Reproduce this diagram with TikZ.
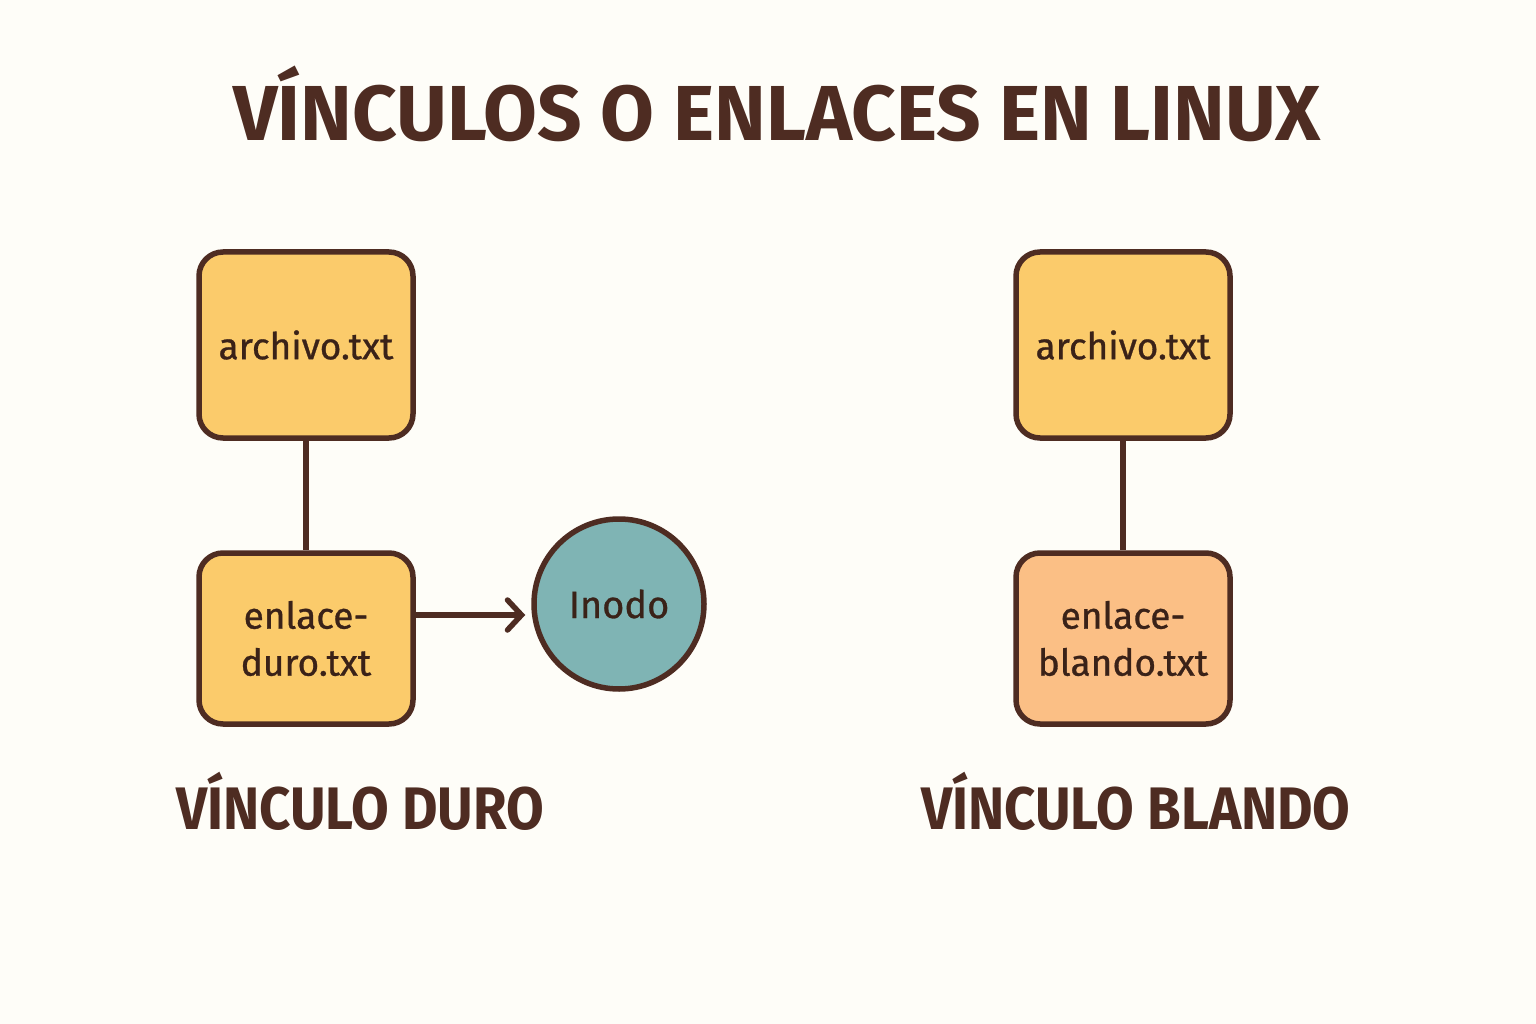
\documentclass[tikz,border=0pt]{standalone}
\usepackage{fontspec}
\setmainfont{Fira Sans}
\newfontfamily\boxfont[FakeBold=0.8]{Fira Sans}
\newfontfamily\condfont[FakeStretch=0.91]{Fira Sans}
\usetikzlibrary{arrows.meta}
\definecolor{bg}{HTML}{FEFDF8}
\definecolor{brn}{HTML}{4E2C22}
\definecolor{txt}{HTML}{3A2218}
\definecolor{ylw}{HTML}{FBCB6B}
\definecolor{teal}{HTML}{7FB4B4}
\definecolor{orng}{HTML}{FBBF85}
\tikzset{
  filebox/.style={draw=brn, line width=5.5pt, rounded corners=24pt, fill=ylw,
    minimum width=214pt, text=txt, align=center, inner sep=0pt,
    font=\boxfont\fontsize{37}{47}\selectfont},
  conn/.style={draw=brn, line width=5.5pt},
  arr/.style={conn, -{Straight Barb[length=14pt,width=30pt,line width=5.5pt,line cap=round]}},
  heading/.style={text=brn, font=\condfont\bfseries\fontsize{60}{60}\selectfont, inner sep=0pt}
}
\begin{document}
\begin{tikzpicture}[x=1pt,y=-1pt]
\useasboundingbox[fill=bg] (0,0) rectangle (1536,1024);
\node[text=brn, font=\bfseries\fontsize{78}{78}\selectfont, inner sep=0pt] (title) at (777,104) {VÍNCULOS O ENLACES EN LINUX};
% hard link
\node[filebox, minimum height=186pt] (a1) at (306,345) {archivo.txt};
\node[filebox, minimum height=171pt] (d1) at (306,638.5) {enlace-\\duro.txt};
\node[circle, draw=brn, line width=5.5pt, fill=teal, minimum size=170pt, text=txt,
  font=\boxfont\fontsize{38}{40}\selectfont, inner sep=0pt] (ino) at (619,604) {Inodo};
\draw[conn] (a1) -- (d1);
\draw[arr, shorten >=6pt] ([yshift=23.5pt]d1.east) -- ([yshift=23.5pt]d1.east -| ino.west);
\node[heading] (lh) at (360,801) {VÍNCULO DURO};
% soft link
\node[filebox, minimum height=186pt] (a2) at (1123,345) {archivo.txt};
\node[filebox, fill=orng, minimum height=171pt] (b2) at (1123,638.5) {enlace-\\blando.txt};
\draw[conn] (a2) -- (b2);
\node[heading] (rh) at (1136,801) {VÍNCULO BLANDO};
\end{tikzpicture}
\end{document}
